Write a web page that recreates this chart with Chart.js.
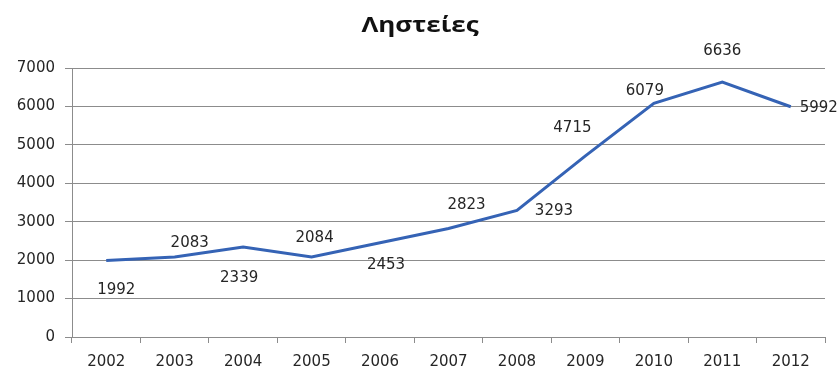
<!DOCTYPE html>
<html>
<head>
<meta charset="utf-8">
<script src="https://cdn.jsdelivr.net/npm/chart.js@4/dist/chart.umd.min.js"></script>
<style>
  html, body { margin: 0; padding: 0; background: #fff; }
  #wrap { width: 840px; height: 369px; }
</style>
</head>
<body>
<div id="wrap"><canvas id="c" width="840" height="369"></canvas></div>
<script>
// Robberies per year
const years = ['2002','2003','2004','2005','2006','2007','2008','2009','2010','2011','2012'];
const robberies = [1992, 2083, 2339, 2084, 2453, 2823, 3293, 4715, 6079, 6636, 5992];
const yTicks = [0, 1000, 2000, 3000, 4000, 5000, 6000, 7000];
const chartTitle = 'Ληστείες';

// Value labels drawn next to each point, nudged so they don't sit on the line
const labelNudge = [
  [10, 30], [15, -14], [-4, 31], [3, -19], [6, 22], [18, -23],
  [37, 1], [-13, -28], [-9, -12], [0, -31], [28, 1]
];

const valueLabels = {
  id: 'valueLabels',
  afterDatasetsDraw(chart) {
    const ctx = chart.ctx;
    const meta = chart.getDatasetMeta(0);
    ctx.save();
    ctx.font = '15px "DejaVu Sans", Verdana, sans-serif';
    ctx.fillStyle = '#262626';
    ctx.textAlign = 'center';
    ctx.textBaseline = 'middle';
    meta.data.forEach((pt, i) => {
      const [dx, dy] = labelNudge[i];
      ctx.fillText(String(robberies[i]), pt.x + dx, pt.y + dy);
    });
    ctx.restore();
  }
};

// Wide bold heading centred over the plot
const wideTitle = {
  id: 'wideTitle',
  afterDraw(chart) {
    const ctx = chart.ctx;
    const cx = chart.width / 2;
    ctx.save();
    ctx.translate(cx, 32);
    ctx.scale(1.18, 1);
    ctx.font = 'bold 22px "Open Sans", sans-serif';
    ctx.fillStyle = '#111';
    ctx.textAlign = 'center';
    ctx.textBaseline = 'alphabetic';
    ctx.fillText(chartTitle, 0, 0);
    ctx.restore();
  }
};

new Chart(document.getElementById('c'), {
  type: 'line',
  data: {
    labels: years,
    datasets: [{
      data: robberies,
      borderColor: '#3563b5',
      borderWidth: 3,
      pointRadius: 0,
      tension: 0,
      fill: false
    }]
  },
  options: {
    responsive: false,
    animation: false,
    layout: { padding: { left: 0, right: 15, top: 68, bottom: 0 } },
    plugins: {
      legend: { display: false },
      tooltip: { enabled: false },
      title: { display: false }
    },
    scales: {
      x: {
        offset: true,
        afterFit(s) { s.height = 32; },
        grid: { offset: true, drawOnChartArea: false, drawTicks: true, tickLength: 6, color: '#8c8c8c' },
        border: { display: true, color: '#8c8c8c', width: 1 },
        ticks: { color: '#262626', padding: 10, font: { family: '"DejaVu Sans", Verdana, sans-serif', size: 15 } }
      },
      y: {
        min: 0,
        max: 7000,
        afterFit(s) { s.width = 72; },
        afterBuildTicks(s) { s.ticks = yTicks.map(v => ({ value: v })); },
        grid: { color: '#8c8c8c', tickLength: 7, lineWidth: 1 },
        border: { display: true, color: '#8c8c8c', width: 1 },
        ticks: {
          color: '#262626',
          padding: 10,
          font: { family: '"DejaVu Sans", Verdana, sans-serif', size: 15 },
          callback: v => String(v)
        }
      }
    }
  },
  plugins: [valueLabels, wideTitle]
});
</script>
</body>
</html>
